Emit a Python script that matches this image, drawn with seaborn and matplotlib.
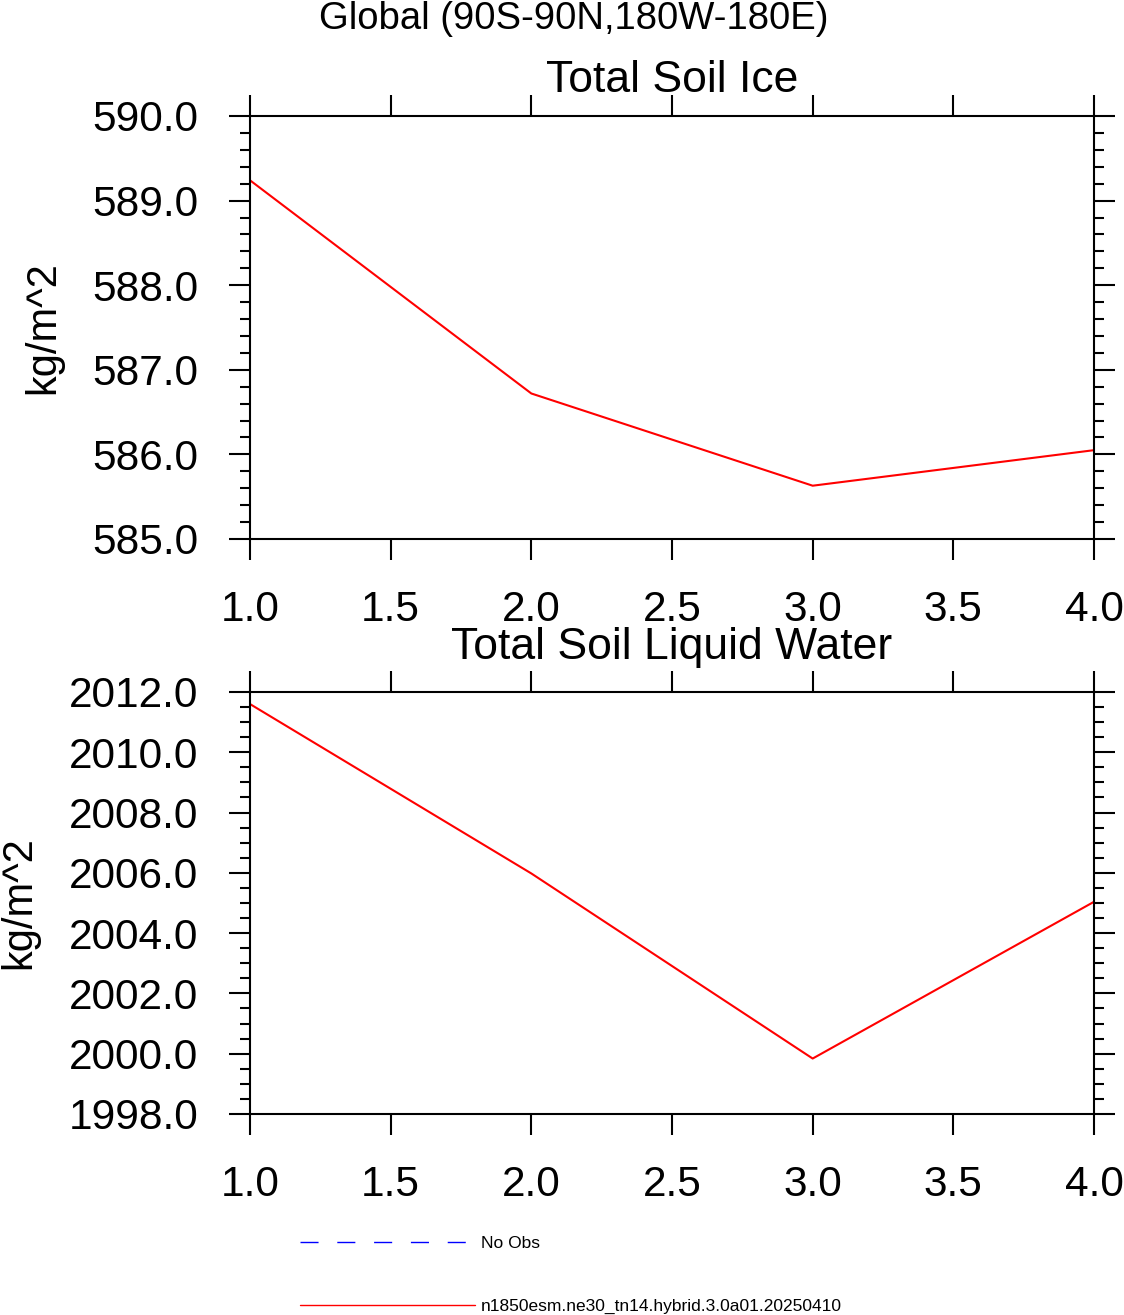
import numpy as np
import pandas as pd
import matplotlib
matplotlib.use("Agg")
import matplotlib.pyplot as plt
import seaborn as sns
from matplotlib.lines import Line2D
from matplotlib.ticker import MultipleLocator, FormatStrFormatter

# ---- data ----
years = [1, 2, 3, 4]
soil_ice = [589.24, 586.72, 585.63, 586.05]
soil_liq = [2011.6, 2005.98, 1999.84, 2005.04]
case_name = "n1850esm.ne30_tn14.hybrid.3.0a01.20250410"
obs_name = "No Obs"
suptitle = "Global (90S-90N,180W-180E)"
titles = ["Total Soil Ice", "Total Soil Liquid Water"]
ylabel = "kg/m^2"

sns.set_style("ticks")
plt.rcParams['font.family'] = ['Liberation Sans', 'DejaVu Sans']
plt.rcParams['text.color'] = 'black'
plt.rcParams['axes.labelcolor'] = 'black'
plt.rcParams['xtick.color'] = 'black'
plt.rcParams['ytick.color'] = 'black'

fig = plt.figure(figsize=(11.24, 13.15), dpi=100)
ax1 = fig.add_axes([250/1124, 1-539/1315, 844/1124, 423/1315])
ax2 = fig.add_axes([250/1124, 1-1114/1315, 844/1124, 422/1315])

df1 = pd.DataFrame({"x": years, "y": soil_ice})
df2 = pd.DataFrame({"x": years, "y": soil_liq})

sns.lineplot(data=df1, x="x", y="y", ax=ax1, color="red", lw=1.5)
sns.lineplot(data=df2, x="x", y="y", ax=ax2, color="red", lw=1.5)

settings = [(ax1, (585, 590), 1.0, 0.2, 17), (ax2, (1998, 2012), 2.0, 0.5, 23.5)]
for (ax, ylim, maj, mnr, tpad), t in zip(settings, titles):
    ax.set_xlim(1, 4)
    ax.set_ylim(*ylim)
    ax.xaxis.set_major_locator(MultipleLocator(0.5))
    ax.xaxis.set_major_formatter(FormatStrFormatter("%.1f"))
    ax.yaxis.set_major_locator(MultipleLocator(maj))
    ax.yaxis.set_minor_locator(MultipleLocator(mnr))
    ax.yaxis.set_major_formatter(FormatStrFormatter("%.1f"))
    ax.tick_params(which="both", direction="out", top=True, right=True,
                   width=1.5, color="black", labelcolor="black")
    ax.tick_params(which="major", length=15, labelsize=30.5)
    ax.tick_params(axis="y", which="major", pad=22)
    ax.tick_params(axis="x", which="major", pad=22)
    ax.tick_params(which="minor", length=7.5)
    for s in ax.spines.values():
        s.set_linewidth(1.5)
        s.set_color("black")
    ax.set_xlabel("")
    ax.set_ylabel(ylabel, fontsize=30, labelpad=21, color="black")
    ax.set_title(t, fontsize=32, pad=tpad, color="black")

fig.text(574/1124, 1-19/1315, suptitle, ha="center", va="center",
         fontsize=27.5, color="black")

handles = [Line2D([], [], color="blue", lw=1, dashes=(13, 13.5)),
           Line2D([], [], color="red", lw=1)]
leg = fig.legend(handles, [obs_name, case_name], loc="upper left",
                 bbox_to_anchor=(300/1124, 1-1236/1315), frameon=False,
                 fontsize=12.5, handlelength=10.1, handletextpad=0.3,
                 labelspacing=2.75, borderaxespad=0, borderpad=0)
for txt in leg.get_texts():
    txt.set_color("black")

fig.savefig("out.png", dpi=100)
